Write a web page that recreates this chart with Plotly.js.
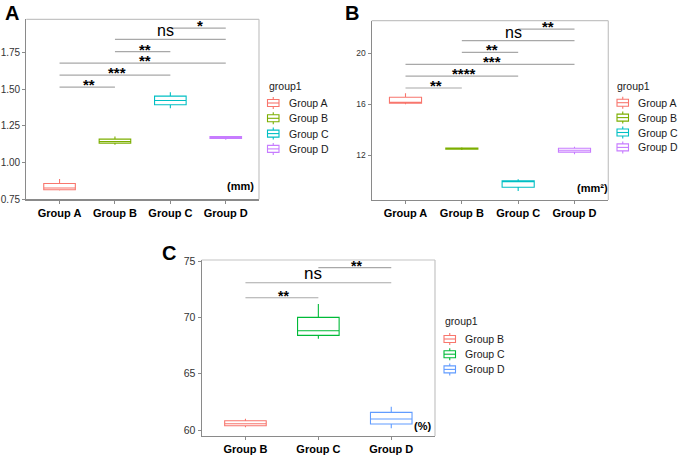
<!DOCTYPE html>
<html><head><meta charset="utf-8">
<script src="https://cdn.plot.ly/plotly-3.0.1.min.js"></script>
<style>html,body{margin:0;padding:0;background:#fff}#chart{width:678px;height:458px}</style>
</head><body><div id="chart"></div>
<script>
// ---------- Panel A (mm) ----------
const catsA = ['Group A','Group B','Group C','Group D'];
const lowA  = [0.808, 1.120, 1.371, 1.155];
const q1A   = [0.813, 1.132, 1.394, 1.163];
const medA  = [0.825, 1.143, 1.423, 1.170];
const q3A   = [0.856, 1.159, 1.453, 1.176];
const upA   = [0.886, 1.177, 1.480, 1.180];
const sigFromA = ['Group A','Group A','Group A','Group B','Group B','Group C'];
const sigToA   = ['Group B','Group C','Group D','Group C','Group D','Group D'];
const sigYA    = [1.514, 1.596, 1.678, 1.757, 1.841, 1.918];
const sigLabA  = ['**','***','**','**','ns','*'];
const yTicksA  = [0.75, 1.00, 1.25, 1.50, 1.75];
const yTickTextA = ['0.75','1.00','1.25','1.50','1.75'];

// ---------- Panel B (mm²) ----------
const catsB = ['Group A','Group B','Group C','Group D'];
const lowB  = [16.00, 12.40, 9.17, 12.05];
const q1B   = [16.07, 12.45, 9.46, 12.23];
const medB  = [16.14, 12.50, 9.90, 12.37];
const q3B   = [16.54, 12.55, 9.98, 12.53];
const upB   = [16.85, 12.60, 10.09, 12.65];
const sigFromB = ['Group A','Group A','Group A','Group B','Group B','Group C'];
const sigToB   = ['Group B','Group C','Group D','Group C','Group D','Group D'];
const sigYB    = [17.27, 18.21, 19.13, 20.08, 20.99, 21.91];
const sigLabB  = ['**','****','***','**','ns','**'];
const yTicksB  = [12, 16, 20];

// ---------- Panel C (%) ----------
const catsC = ['Group B','Group C','Group D'];
const lowC  = [60.24, 68.10, 60.15];
const q1C   = [60.38, 68.40, 60.53];
const medC  = [60.56, 68.81, 60.98];
const q3C   = [60.83, 70.00, 61.57];
const upC   = [61.00, 71.18, 62.07];
const sigFromC = ['Group B','Group B','Group C'];
const sigToC   = ['Group C','Group D','Group D'];
const sigYC    = [71.74, 73.07, 74.41];
const sigLabC  = ['**','ns','**'];
const yTicksC  = [60, 65, 70, 75];

const legendTitle = 'group1';

// ---------- styling / layout helpers ----------
const W = 678, H = 458;
const FONT = 'Liberation Sans, Arial, sans-serif';
const px = x => x / W;
const py = y => 1 - y / H;
const colors4 = ['#F8766D','#7CAE00','#00BFC4','#C77CFF'];
const colors3 = ['#F8766D','#00BA38','#619CFF'];

const traces = [];
const shapes = [];
const annotations = [];

function addPanel(cfg) {
  const {cats, low, q1, med, q3, up, colors, xa, ya, sigFrom, sigTo, sigY, sigLab, starSize, nsSize} = cfg;
  const xref = xa, yref = ya.replace('axis','');
  cats.forEach((c, i) => {
    traces.push({
      type: 'box', x: [c], q1: [q1[i]], median: [med[i]], q3: [q3[i]],
      lowerfence: [low[i]], upperfence: [up[i]],
      xaxis: xref, yaxis: yref, width: 0.57, whiskerwidth: 0,
      boxpoints: false, line: {color: colors[i], width: 1.1},
      fillcolor: 'rgba(255,255,255,0)', showlegend: false, hoverinfo: 'skip', name: c
    });
  });
  sigFrom.forEach((f, i) => {
    const a = cats.indexOf(f), b = cats.indexOf(sigTo[i]);
    shapes.push({type: 'line', xref: xref, yref: yref, x0: a, x1: b, y0: sigY[i], y1: sigY[i],
      line: {color: '#a8a8a8', width: 1.2}});
    const isNs = sigLab[i] === 'ns';
    annotations.push({xref: xref, yref: yref, x: (a + b) / 2, y: sigY[i], text: sigLab[i],
      showarrow: false, xanchor: 'center', yanchor: 'bottom',
      xshift: isNs ? -5 : 2, yshift: isNs ? -2 : -8,
      font: {family: FONT, size: isNs ? nsSize : starSize, color: '#000', weight: isNs ? 'normal' : 'bold'}});
  });
  // top & right borders of panel
  shapes.push({type: 'line', xref: xref + ' domain', yref: yref + ' domain', x0: 0, x1: 1, y0: 1, y1: 1, line: {color: '#c4c4c4', width: 1.2}});
  shapes.push({type: 'line', xref: xref + ' domain', yref: yref + ' domain', x0: 1, x1: 1, y0: 0, y1: 1, line: {color: '#c4c4c4', width: 1.2}});
}

function addLegend(cats, colors, titleX, titleY, iconX, textX, y0, dy) {
  annotations.push({xref: 'paper', yref: 'paper', x: px(titleX), y: py(titleY), text: legendTitle,
    showarrow: false, xanchor: 'left', yanchor: 'middle', font: {family: FONT, size: 10.5, color: '#1a1a1a'}});
  cats.forEach((c, i) => {
    const cy = y0 + i * dy;
    const col = colors[i];
    shapes.push({type: 'rect', xref: 'paper', yref: 'paper', x0: px(iconX), x1: px(iconX + 11.5), y0: py(cy + 3.5), y1: py(cy - 3.5), line: {color: col, width: 1.1}});
    shapes.push({type: 'line', xref: 'paper', yref: 'paper', x0: px(iconX), x1: px(iconX + 11.5), y0: py(cy), y1: py(cy), line: {color: col, width: 1.1}});
    shapes.push({type: 'line', xref: 'paper', yref: 'paper', x0: px(iconX + 5.75), x1: px(iconX + 5.75), y0: py(cy - 3.5), y1: py(cy - 6), line: {color: col, width: 1.1}});
    shapes.push({type: 'line', xref: 'paper', yref: 'paper', x0: px(iconX + 5.75), x1: px(iconX + 5.75), y0: py(cy + 3.5), y1: py(cy + 6), line: {color: col, width: 1.1}});
    annotations.push({xref: 'paper', yref: 'paper', x: px(textX), y: py(cy), text: c, showarrow: false,
      xanchor: 'left', yanchor: 'middle', font: {family: FONT, size: 10.5, color: '#1a1a1a'}});
  });
}

addPanel({cats: catsA, low: lowA, q1: q1A, med: medA, q3: q3A, up: upA, colors: colors4, xa: 'x', ya: 'yaxis',
  sigFrom: sigFromA, sigTo: sigToA, sigY: sigYA, sigLab: sigLabA, starSize: 15, nsSize: 16});
addPanel({cats: catsB, low: lowB, q1: q1B, med: medB, q3: q3B, up: upB, colors: colors4, xa: 'x2', ya: 'yaxis2',
  sigFrom: sigFromB, sigTo: sigToB, sigY: sigYB, sigLab: sigLabB, starSize: 15, nsSize: 16});
addPanel({cats: catsC, low: lowC, q1: q1C, med: medC, q3: q3C, up: upC, colors: colors3, xa: 'x3', ya: 'yaxis3',
  sigFrom: sigFromC, sigTo: sigToC, sigY: sigYC, sigLab: sigLabC, starSize: 14, nsSize: 17});

addLegend(catsA, colors4, 266.7, 86, 267.5, 286.7, 103, 15.3);
addLegend(catsB, colors4, 615, 86, 617, 636, 102.7, 14.9);
addLegend(catsC, colors3, 442.7, 320.7, 444, 463.3, 339, 15.2);

// unit labels
annotations.push({xref: 'x', yref: 'y', x: 3.257, y: 0.841, text: '(mm)', showarrow: false, font: {family: FONT, size: 11, color: '#000', weight: 'bold'}});
annotations.push({xref: 'x2', yref: 'y2', x: 3.325, y: 9.44, text: '(mm²)', showarrow: false, font: {family: FONT, size: 11, color: '#000', weight: 'bold'}});
annotations.push({xref: 'x3', yref: 'y3', x: 2.429, y: 60.38, text: '(%)', showarrow: false, font: {family: FONT, size: 11, color: '#000', weight: 'bold'}});

// panel letters
[['A', 3, 0], ['B', 343, 0], ['C', 160, 240]].forEach(([t, x, y]) => {
  annotations.push({xref: 'paper', yref: 'paper', x: px(x), y: py(y), text: t, showarrow: false,
    xanchor: 'left', yanchor: 'top', font: {family: FONT, size: 20, color: '#000', weight: 'bold'}});
});

function xAxis(cats, d0, d1, anchor) {
  return {domain: [px(d0), px(d1)], anchor: anchor, type: 'category', categoryorder: 'array', categoryarray: cats,
    range: [-0.6, cats.length - 0.4], showline: true, linecolor: '#8a8a8a', linewidth: 1.2,
    ticks: 'outside', ticklen: 3, tickcolor: '#8a8a8a', tickwidth: 1, showgrid: false, zeroline: false,
    tickfont: {family: FONT, size: 11, color: '#000', weight: 'bold'}, fixedrange: true};
}
function yAxis(top, bottom, range, tv, tt, anchor, fs) {
  return {domain: [py(bottom), py(top)], anchor: anchor, range: range, tickmode: 'array', tickvals: tv, ticktext: tt,
    showline: true, linecolor: '#8a8a8a', linewidth: 1.2, ticks: 'outside', ticklen: 3, tickcolor: '#8a8a8a', tickwidth: 1,
    showgrid: false, zeroline: false, tickfont: {family: FONT, size: fs, color: '#333'}, fixedrange: true};
}

const layout = {
  width: W, height: H, margin: {l: 0, r: 0, t: 0, b: 0}, paper_bgcolor: '#fff', plot_bgcolor: '#fff',
  showlegend: false, boxmode: 'overlay',
  xaxis: xAxis(catsA, 26.3, 259, 'y'),
  yaxis: yAxis(19.3, 199.3, [0.748, 1.978], yTicksA, yTickTextA, 'x', 10),
  xaxis2: xAxis(catsB, 371.7, 608.3, 'y2'),
  yaxis2: yAxis(20.7, 200, [8.46, 22.565], yTicksB, yTicksB.map(String), 'x2', 8.5),
  xaxis3: xAxis(catsC, 201.7, 435, 'y3'),
  yaxis3: yAxis(260, 436, [59.47, 75.09], yTicksC, yTicksC.map(String), 'x3', 10.5),
  shapes: shapes, annotations: annotations
};

Plotly.newPlot('chart', traces, layout, {displayModeBar: false, staticPlot: true});
</script></body></html>
